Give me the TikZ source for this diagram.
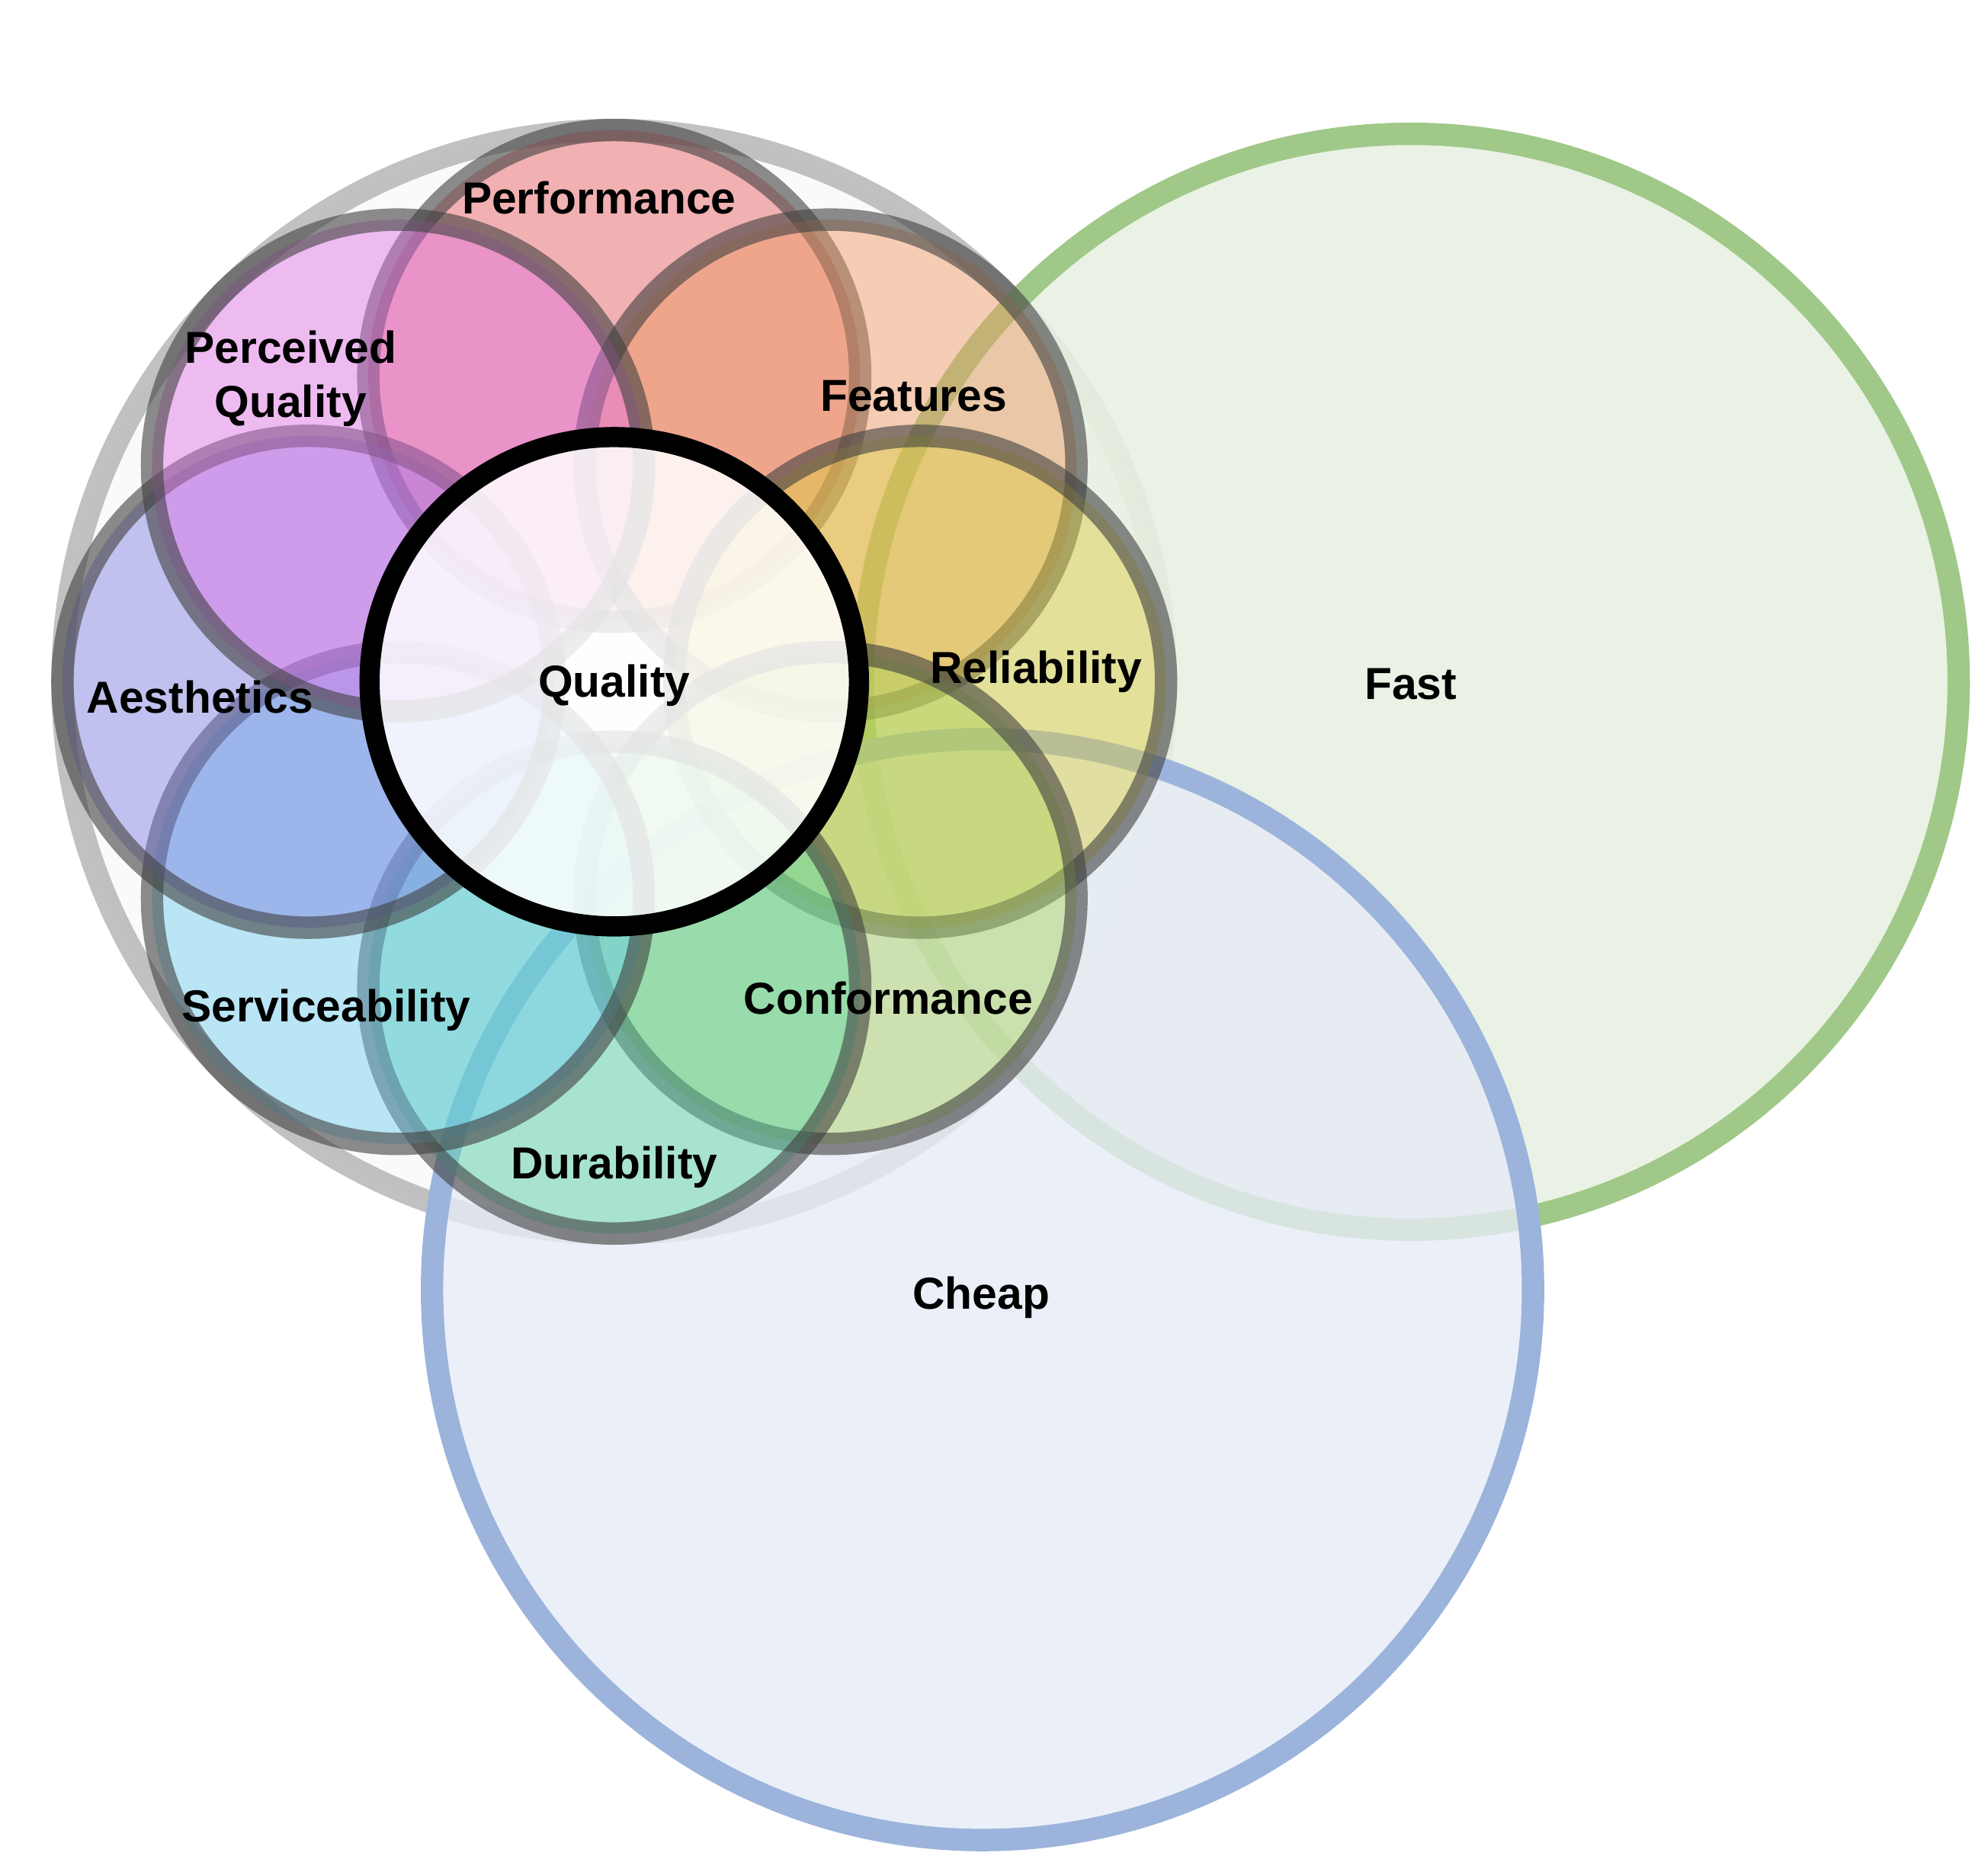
\documentclass[tikz,border=0pt]{standalone}
\usepackage{fontspec}
\setmainfont{Liberation Sans}
\usetikzlibrary{positioning,calc}
\definecolor{perfC}{HTML}{E8585A}
\definecolor{featC}{HTML}{EE9860}
\definecolor{reliC}{HTML}{DDCC40}
\definecolor{confC}{HTML}{A8D25A}
\definecolor{duraC}{HTML}{58D6A6}
\definecolor{servC}{HTML}{6CCCEE}
\definecolor{aestC}{HTML}{7A7CE0}
\definecolor{percC}{HTML}{E070E8}
\definecolor{fastC}{HTML}{A0C888}
\definecolor{cheapC}{HTML}{9CB4DC}
\tikzset{
  label/.style={font=\bfseries\fontsize{10}{12}\selectfont, align=center, text opacity=1},
}
\begin{document}
\begin{tikzpicture}[x=0.01cm, y=-0.01cm, line width=1pt]
    \useasboundingbox (0,0) rectangle (1560,1469);
    %Outer circles
    \draw[draw=black!30, draw opacity=0.8, line width=5pt, fill=black!2] (482,535) circle (433);
    \draw[draw=fastC, line width=5pt, fill=fastC!25, fill opacity=0.9] (1107,535) circle (430);
    \draw[draw=cheapC, line width=5pt, fill=cheapC!25, fill opacity=0.8] (771,1012) circle (432);

    %Petals
    \foreach \name/\col/\ang in {perf/perfC/-90, feat/featC/-45, reli/reliC/0, conf/confC/45,
                                  dura/duraC/90, serv/servC/135, aest/aestC/180, perc/percC/-135}{
        \draw[draw=black!75, draw opacity=0.6, line width=5pt, fill=\col, fill opacity=0.45]
            ($(482,535)+(\ang:240)$) circle (193);
    }
    \draw[line width=4.5pt, fill=white, fill opacity=0.85] (482,535) circle (192);

    % Text labels
    \node[label] (quality)     at (482,538)  {Quality};
    \node[label] (performance) at (470,155)  {Performance};
    \node[label] (perceived)   at (228,297)  {Perceived\\Quality};
    \node[label] (features)    at (717,311)  {Features};
    \node[label] (reliability) at (813,527)  {Reliability};
    \node[label] (aesthetics)  at (157,547)  {Aesthetics};
    \node[label] (service)     at (256,793)  {Serviceability};
    \node[label] (conform)     at (697,783)  {Conformance};
    \node[label] (durability)  at (482,916)  {Durability};
    \node[label] (fast)        at (1107,537) {Fast};
    \node[label] (cheap)       at (770,1018) {Cheap};
\end{tikzpicture}
\end{document}
